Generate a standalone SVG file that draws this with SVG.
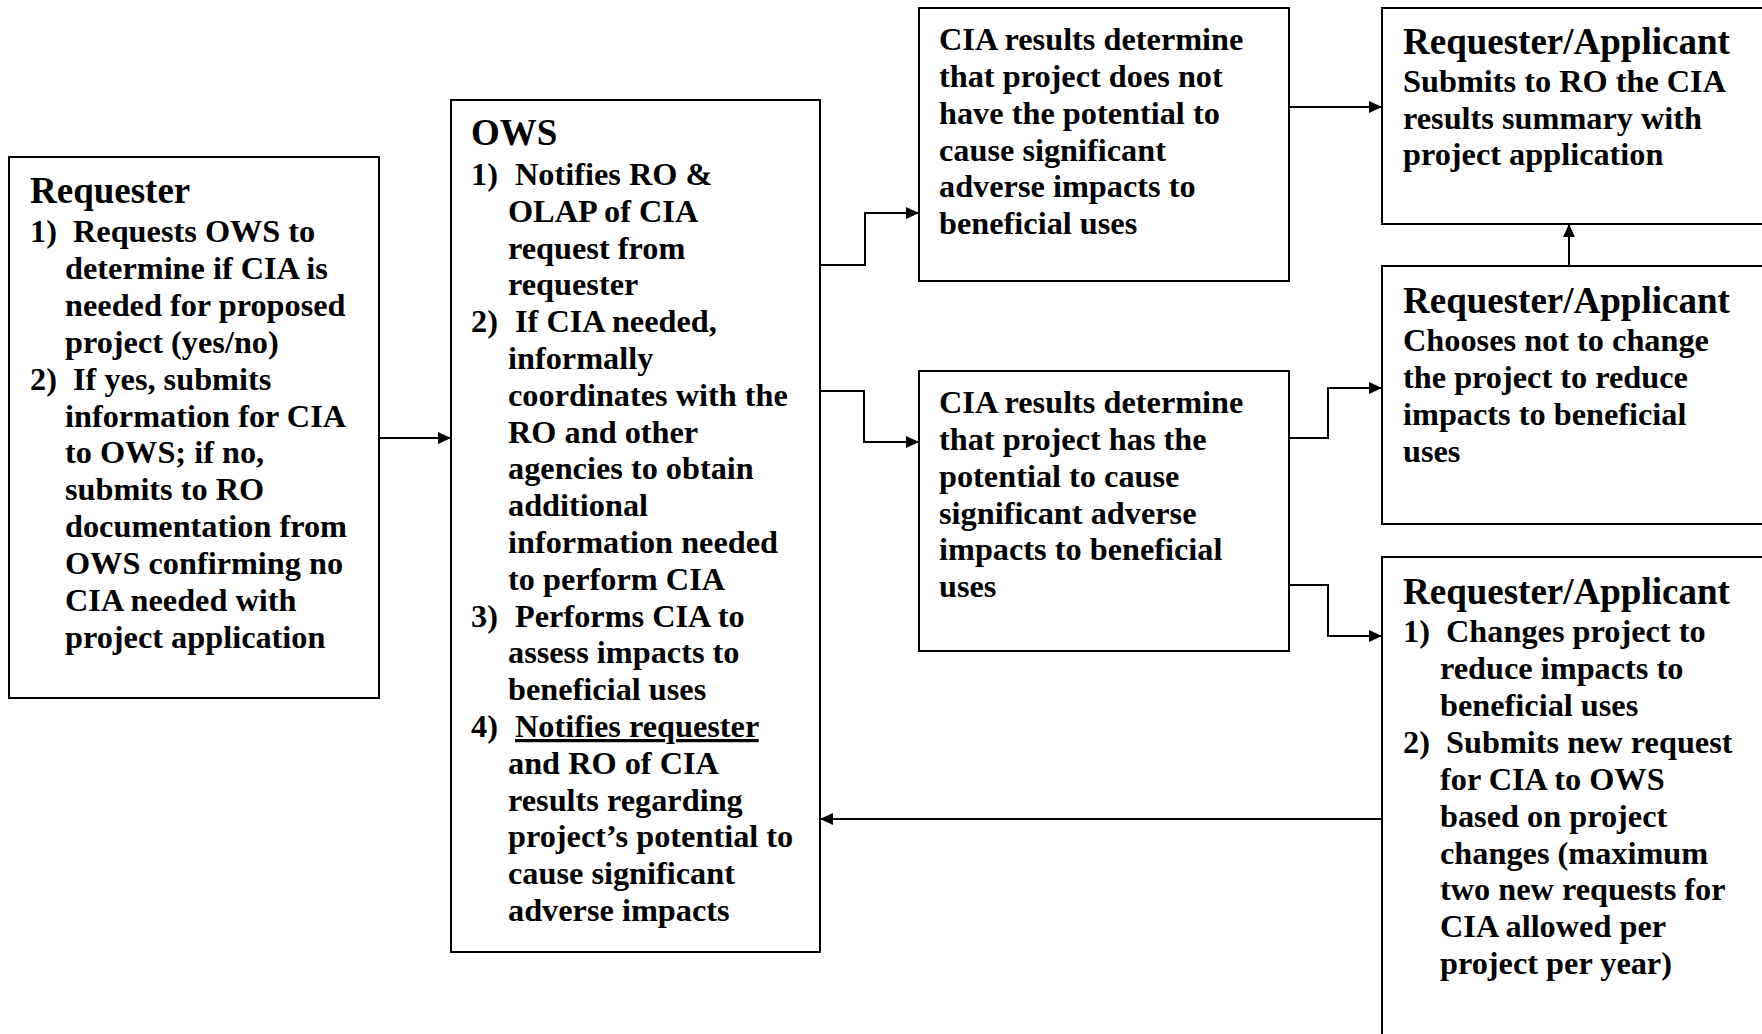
<svg xmlns="http://www.w3.org/2000/svg" width="1762" height="1034" viewBox="0 0 1762 1034">
<style>
.box{fill:#fff;stroke:#000;stroke-width:2}
text{font-family:"Liberation Serif","Times New Roman",serif;font-weight:bold;fill:#000}
.t{font-size:37px}
.b{font-size:32.3px}
.c{fill:none;stroke:#000;stroke-width:2}
</style>
<defs>
<marker id="ah" markerUnits="userSpaceOnUse" markerWidth="14" markerHeight="12" refX="13" refY="6" orient="auto">
<path d="M0,0 L13,6 L0,12 z" fill="#000"/>
</marker>
</defs>
<rect width="1762" height="1034" fill="#fff"/>

<g id="requester">
<rect class="box" x="9" y="157" width="370" height="541"/>
<text class="t" x="30" y="203">Requester</text>
<text class="b">
<tspan x="30" y="242">1)</tspan><tspan x="73" y="242">Requests OWS to</tspan>
<tspan x="65" y="279">determine if CIA is</tspan>
<tspan x="65" y="316">needed for proposed</tspan>
<tspan x="65" y="353">project (yes/no)</tspan>
<tspan x="30" y="390">2)</tspan><tspan x="73" y="390">If yes, submits</tspan>
<tspan x="65" y="427">information for CIA</tspan>
<tspan x="65" y="463">to OWS; if no,</tspan>
<tspan x="65" y="500">submits to RO</tspan>
<tspan x="65" y="537">documentation from</tspan>
<tspan x="65" y="574">OWS confirming no</tspan>
<tspan x="65" y="611">CIA needed with</tspan>
<tspan x="65" y="648">project application</tspan>
</text>
</g>

<g id="ows">
<rect class="box" x="451" y="100" width="369" height="852"/>
<text class="t" x="471" y="145">OWS</text>
<text class="b">
<tspan x="471" y="185">1)</tspan><tspan x="515" y="185">Notifies RO &amp;</tspan>
<tspan x="508" y="222">OLAP of CIA</tspan>
<tspan x="508" y="259">request from</tspan>
<tspan x="508" y="295">requester</tspan>
<tspan x="471" y="332">2)</tspan><tspan x="515" y="332">If CIA needed,</tspan>
<tspan x="508" y="369">informally</tspan>
<tspan x="508" y="406">coordinates with the</tspan>
<tspan x="508" y="443">RO and other</tspan>
<tspan x="508" y="479">agencies to obtain</tspan>
<tspan x="508" y="516">additional</tspan>
<tspan x="508" y="553">information needed</tspan>
<tspan x="508" y="590">to perform CIA</tspan>
<tspan x="471" y="627">3)</tspan><tspan x="515" y="627">Performs CIA to</tspan>
<tspan x="508" y="663">assess impacts to</tspan>
<tspan x="508" y="700">beneficial uses</tspan>
<tspan x="471" y="737">4)</tspan><tspan x="515" y="737" text-decoration="underline">Notifies requester</tspan>
<tspan x="508" y="774">and RO of CIA</tspan>
<tspan x="508" y="811">results regarding</tspan>
<tspan x="508" y="847">project’s potential to</tspan>
<tspan x="508" y="884">cause significant</tspan>
<tspan x="508" y="921">adverse impacts</tspan>
</text>
</g>

<g id="cia-no">
<rect class="box" x="919" y="8" width="370" height="273"/>
<text class="b">
<tspan x="939" y="50">CIA results determine</tspan>
<tspan x="939" y="87">that project does not</tspan>
<tspan x="939" y="124">have the potential to</tspan>
<tspan x="939" y="161">cause significant</tspan>
<tspan x="939" y="197">adverse impacts to</tspan>
<tspan x="939" y="234">beneficial uses</tspan>
</text>
</g>

<g id="cia-yes">
<rect class="box" x="919" y="371" width="370" height="280"/>
<text class="b">
<tspan x="939" y="413">CIA results determine</tspan>
<tspan x="939" y="450">that project has the</tspan>
<tspan x="939" y="487">potential to cause</tspan>
<tspan x="939" y="524">significant adverse</tspan>
<tspan x="939" y="560">impacts to beneficial</tspan>
<tspan x="939" y="597">uses</tspan>
</text>
</g>

<g id="ra-submit">
<rect class="box" x="1382" y="8" width="400" height="216"/>
<text class="t" x="1403" y="54">Requester/Applicant</text>
<text class="b">
<tspan x="1403" y="92">Submits to RO the CIA</tspan>
<tspan x="1403" y="129">results summary with</tspan>
<tspan x="1403" y="165">project application</tspan>
</text>
</g>

<g id="ra-nochange">
<rect class="box" x="1382" y="266" width="400" height="258"/>
<text class="t" x="1403" y="313">Requester/Applicant</text>
<text class="b">
<tspan x="1403" y="351">Chooses not to change</tspan>
<tspan x="1403" y="388">the project to reduce</tspan>
<tspan x="1403" y="425">impacts to beneficial</tspan>
<tspan x="1403" y="462">uses</tspan>
</text>
</g>

<g id="ra-change">
<rect class="box" x="1382" y="557" width="400" height="500"/>
<text class="t" x="1403" y="604">Requester/Applicant</text>
<text class="b">
<tspan x="1403" y="642">1)</tspan><tspan x="1446" y="642">Changes project to</tspan>
<tspan x="1440" y="679">reduce impacts to</tspan>
<tspan x="1440" y="716">beneficial uses</tspan>
<tspan x="1403" y="753">2)</tspan><tspan x="1446" y="753">Submits new request</tspan>
<tspan x="1440" y="790">for CIA to OWS</tspan>
<tspan x="1440" y="827">based on project</tspan>
<tspan x="1440" y="864">changes (maximum</tspan>
<tspan x="1440" y="900">two new requests for</tspan>
<tspan x="1440" y="937">CIA allowed per</tspan>
<tspan x="1440" y="974">project per year)</tspan>
</text>
</g>

<g id="connectors">
<path class="c" d="M379,438 H451" marker-end="url(#ah)"/>
<path class="c" d="M820,265 H865 V213 H919" marker-end="url(#ah)"/>
<path class="c" d="M820,391 H864 V442 H919" marker-end="url(#ah)"/>
<path class="c" d="M1289,107 H1382" marker-end="url(#ah)"/>
<path class="c" d="M1289,438 H1328 V388 H1382" marker-end="url(#ah)"/>
<path class="c" d="M1289,585 H1328 V636 H1382" marker-end="url(#ah)"/>
<path class="c" d="M1569,266 V224" marker-end="url(#ah)"/>
<path class="c" d="M1382,819 H820" marker-end="url(#ah)"/>
</g>
</svg>
